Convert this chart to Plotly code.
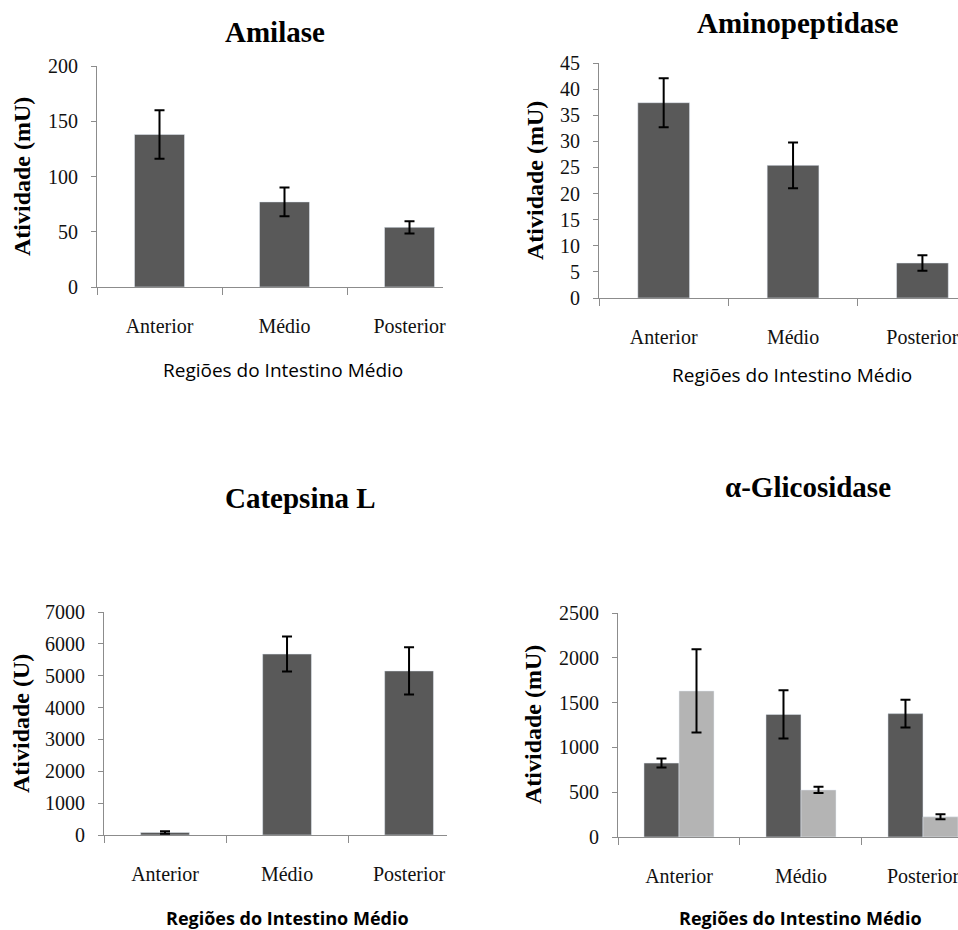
import plotly.graph_objects as go

regions = ["Anterior", "Médio", "Posterior"]

amilase = [138, 77, 54]
amilase_err = [22, 13, 5.5]

aminopep = [37.4, 25.4, 6.7]
aminopep_err = [4.7, 4.4, 1.5]

catepsina = [80, 5680, 5150]
catepsina_err = [40, 550, 740]

glic_dark = [825, 1368, 1377]
glic_dark_err = [50, 270, 155]
glic_light = [1630, 525, 225]
glic_light_err = [465, 35, 28]

W, H = 958, 930
DARK = "#595959"
LIGHT = "#b4b4b4"
AXC = "#8c8c8c"
SERIF = "Liberation Serif, Times New Roman, serif"
SANS = "Liberation Sans Narrow, Open Sans, sans-serif"

fig = go.Figure()

def px_dom_x(a, b):
    return [a / W, min(b / W, 1.0)]

def px_dom_y(top, bottom):
    return [1 - bottom / H, 1 - top / H]

panels = [
    ("", (97, 443), (66, 287), 2.268, 200, 50),
    ("2", (599, 958), (63, 298), 2.275, 45, 5),
    ("3", (104, 447), (612, 835), 2.311, 7000, 1000),
    ("4", (618, 958), (613, 837), 2.287, 2500, 500),
]

def err(arr):
    return dict(type="data", array=arr, visible=True, color="black", thickness=2, width=5)

fig.add_trace(go.Bar(x=regions, y=amilase, error_y=err(amilase_err), marker_color=DARK,
                     width=0.4, offset=-0.2, xaxis="x", yaxis="y"))
fig.add_trace(go.Bar(x=regions, y=aminopep, error_y=err(aminopep_err), marker_color=DARK,
                     width=0.4, offset=-0.2, xaxis="x2", yaxis="y2"))
fig.add_trace(go.Bar(x=regions, y=catepsina, error_y=err(catepsina_err), marker_color=DARK,
                     width=0.4, offset=-0.2, xaxis="x3", yaxis="y3"))
fig.add_trace(go.Bar(x=regions, y=glic_dark, error_y=err(glic_dark_err), marker_color=DARK,
                     width=0.287, offset=-0.287, xaxis="x4", yaxis="y4"))
fig.add_trace(go.Bar(x=regions, y=glic_light, error_y=err(glic_light_err), marker_color=LIGHT,
                     width=0.287, offset=0.0, xaxis="x4", yaxis="y4"))

layout = dict(
    width=W, height=H, margin=dict(l=0, r=0, t=0, b=0, autoexpand=False),
    paper_bgcolor="white", plot_bgcolor="white",
    showlegend=False, barmode="overlay",
)

for pid, (xa, xb), (yt, yb), xend, ymax, dt in panels:
    layout["xaxis" + pid] = dict(
        domain=px_dom_x(xa, xb), anchor="y" + pid, type="category",
        range=[-0.5, xend], showline=True, linecolor=AXC, linewidth=1,
        ticks="outside", tickson="boundaries", ticklen=7, tickcolor=AXC,
        showgrid=False, zeroline=False, automargin=False,
        tickfont=dict(family=SERIF, size=20, color="#111111"),
        ticklabelstandoff=21, fixedrange=True,
    )
    layout["yaxis" + pid] = dict(
        domain=px_dom_y(yt, yb), anchor="x" + pid,
        range=[0, ymax], dtick=dt, tick0=0, showline=True, linecolor=AXC, linewidth=1,
        ticks="outside", ticklen=5, tickcolor=AXC, showgrid=False, zeroline=False,
        automargin=False,
        tickfont=dict(family=SERIF, size=20, color="#111111"),
        ticklabelstandoff=9, fixedrange=True,
    )

fig.update_layout(**layout)

def ann(text, x, y, size, family, bold=False, angle=0):
    fig.add_annotation(
        text=("<b>%s</b>" % text) if bold else text,
        x=x / W, y=1 - y / H, xref="paper", yref="paper",
        showarrow=False, xanchor="center", yanchor="middle", textangle=angle,
        font=dict(family=family, size=size, color="black"),
    )

ann("Amilase", 275, 32, 29, SERIF, True)
ann("Aminopeptidase", 798, 23, 29, SERIF, True)
ann("Catepsina L", 300, 498, 29, SERIF, True)
ann("α-Glicosidase", 808, 487, 29, SERIF, True)

ann("Atividade (mU)", 22, 177, 24, SERIF, True, -90)
ann("Atividade (mU)", 535, 181, 24, SERIF, True, -90)
ann("Atividade (U)", 21, 724, 24, SERIF, True, -90)
ann("Atividade (mU)", 533, 725, 24, SERIF, True, -90)

ann("Regiões do Intestino Médio", 283, 370, 19, SANS)
ann("Regiões do Intestino Médio", 792, 375, 19, SANS)
ann("Regiões do Intestino Médio", 287, 918, 18, SANS, True)
ann("Regiões do Intestino Médio", 800, 918, 18, SANS, True)

fig.write_html(
    "out.html",
    config={"displayModeBar": False, "staticPlot": True},
    post_script="document.body.style.margin='0';document.body.style.padding='0';"
                "document.body.style.overflow='hidden';",
)
